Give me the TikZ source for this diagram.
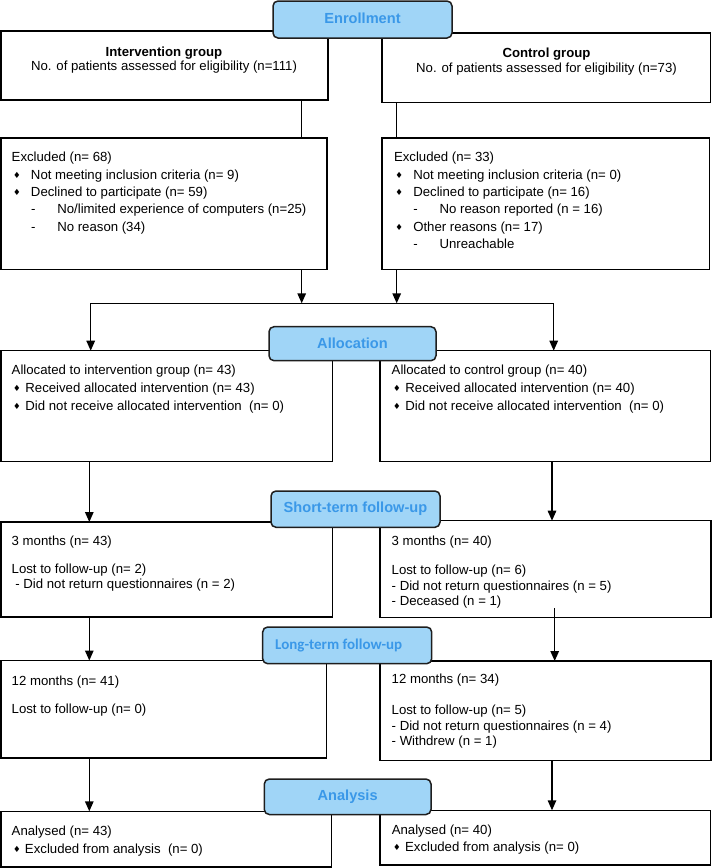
\documentclass[tikz,border=0pt]{standalone}
\usepackage{fontspec}
\setmainfont{Liberation Sans}
\newfontfamily\symf{DejaVu Sans}
\newfontfamily\calib{Carlito}
\usetikzlibrary{arrows.meta,calc}

\definecolor{hdrfill}{RGB}{160,213,247}
\definecolor{hdrtext}{RGB}{58,152,232}
\definecolor{hdrline}{RGB}{30,30,30}

\newcommand{\blk}[2]{\vtop{\baselineskip=#1\relax\lineskiplimit=-100pt\lineskip=0pt\halign{##\hfil\cr#2\crcr}}}
\newcommand{\cblk}[2]{\vtop{\baselineskip=#1\relax\lineskiplimit=-100pt\lineskip=0pt\halign{\hfil##\hfil\cr#2\crcr}}}
\newcommand{\dia}{\raisebox{0.8pt}{\symf\fontsize{8.5}{8.5}\selectfont ♦}}
\newcommand{\bu}[1]{\makebox[#1][l]{\hspace*{1.4pt}\dia}}
\newcommand{\subd}{\hspace*{19.4pt}\makebox[26.2pt][l]{-}}

\begin{document}
\begin{tikzpicture}[x=1pt,y=-1pt,
  box/.style={draw=black, line width=1.4pt, inner sep=0pt, outer sep=0pt, anchor=north west, fill=white},
  hdr/.style={draw=hdrline, fill=hdrfill, line width=1.5pt, rounded corners=5pt, inner sep=0pt, outer sep=0pt, anchor=north west, text=hdrtext, font=\fontsize{14.6}{16}\selectfont\bfseries},
  txt/.style={inner sep=0pt, outer sep=0pt, anchor=base west, font=\fontsize{13.2}{15}\selectfont},
  arr/.style={line width=1.4pt, -{Triangle[width=8.5pt,length=10pt]}},
  ln/.style={line width=1.4pt}]
\useasboundingbox (0,0) rectangle (712,868);

% boxes
\node[box, minimum width=327, minimum height=69] (ib) at (1,31) {};
\node[box, minimum width=328.5, minimum height=69.3] (cb) at (382,33) {};
\node[box, minimum width=326, minimum height=131.3] (ex1) at (1,138) {};
\node[box, minimum width=327.5, minimum height=131.3] (ex2) at (382,138) {};
\node[box, minimum width=331.3, minimum height=110.8] (al1) at (1,350.7) {};
\node[box, minimum width=330.5, minimum height=110.8] (al2) at (380,350.7) {};
\node[box, minimum width=331.3, minimum height=95] (st1) at (1,522) {};
\node[box, minimum width=331, minimum height=96.6] (st2) at (380,520.7) {};
\node[box, minimum width=325.7, minimum height=97.5] (lt1) at (1,660.5) {};
\node[box, minimum width=331, minimum height=99.5] (lt2) at (380,661) {};
\node[box, minimum width=330.7, minimum height=55.7] (an1) at (1,811.3) {};
\node[box, minimum width=330.5, minimum height=54.7] (an2) at (380,810.3) {};

% texts
\node[txt, anchor=base] (ibt) at (164,56.2) {\cblk{14.6pt}{\textbf{Intervention group}\cr No. of patients assessed for eligibility (n=111)}};
\node[txt, anchor=base] (cbt) at (546.5,57.2) {\cblk{15pt}{\textbf{Control group}\cr No. of patients assessed for eligibility (n=73)}};

\node[txt] (ex1t) at (11.7,161.7) {\blk{17.4pt}{Excluded (n= 68)\cr
\bu{19.3pt}Not meeting inclusion criteria (n= 9)\cr
\bu{19.3pt}Declined to participate (n= 59)\cr
\subd No/limited experience of computers (n=25)\cr
\subd No reason (34)}};
\node[txt] (ex2t) at (394,161.7) {\blk{17.4pt}{Excluded (n= 33)\cr
\bu{19.3pt}Not meeting inclusion criteria (n= 0)\cr
\bu{19.3pt}Declined to participate (n= 16)\cr
\subd No reason reported (n = 16)\cr
\bu{19.3pt}Other reasons (n= 17)\cr
\subd Unreachable}};

\node[txt] (al1t) at (11.7,374) {\blk{18pt}{Allocated to intervention group (n= 43)\cr
\bu{13.7pt}Received allocated intervention (n= 43)\cr
\bu{13.7pt}Did not receive allocated intervention~ (n= 0)}};
\node[txt] (al2t) at (391.7,374) {\blk{18pt}{Allocated to control group (n= 40)\cr
\bu{13.7pt}Received allocated intervention (n= 40)\cr
\bu{13.7pt}Did not receive allocated intervention~ (n= 0)}};

\node[txt] (st1t) at (11.7,545) {\blk{14.9pt}{3 months (n= 43)\cr\noalign{\vskip 13.4pt}
Lost to follow-up (n= 2)\cr
\hspace*{3.6pt}- Did not return questionnaires (n = 2)}};
\node[txt] (st2t) at (391.7,545) {\blk{15.5pt}{3 months (n= 40)\cr\noalign{\vskip 14.2pt}
Lost to follow-up (n= 6)\cr
- Did not return questionnaires (n = 5)\cr
- Deceased (n = 1)}};

\node[txt] (lt1t) at (11.7,685) {\blk{15pt}{12 months (n= 41)\cr\noalign{\vskip 13.3pt}
Lost to follow-up (n= 0)}};
\node[txt] (lt2t) at (391.7,683.7) {\blk{15.3pt}{12 months (n= 34)\cr\noalign{\vskip 15.7pt}
Lost to follow-up (n= 5)\cr
- Did not return questionnaires (n = 4)\cr
- Withdrew (n = 1)}};

\node[txt] (an1t) at (11.7,835) {\blk{18.3pt}{Analysed (n= 43)\cr
\bu{13.3pt}Excluded from analysis~ (n= 0)}};
\node[txt] (an2t) at (391.8,834) {\blk{17.7pt}{Analysed (n= 40)\cr
\bu{13.3pt}Excluded from analysis (n= 0)}};

% connectors
\coordinate (xa) at (301.7,0);
\coordinate (xb) at (396.7,0);
\coordinate (bl) at (90.7,303.3);
\coordinate (br) at (553.7,303.3);
\coordinate (xl) at (89.3,0);
\coordinate (xr) at (552,0);
\coordinate (rs) at (554.7,608.3);

\draw[ln] (ib.south -| xa) -- (ex1.north -| xa);
\draw[ln] (cb.south -| xb) -- (ex2.north -| xb);
\draw[arr] (ex1.south -| xa) -- (xa |- bl);
\draw[arr] (ex2.south -| xb) -- (xb |- bl);
\draw[arr] (xa |- bl) -- (bl) -- (bl |- al1.north);
\draw[arr] (xa |- bl) -- (br) -- (br |- al2.north);
\draw[arr] (al1.south -| xl) -- (st1.north -| xl);
\draw[arr] (al2.south -| xr) -- (st2.north -| xr);
\draw[arr] (st1.south -| xl) -- (lt1.north -| xl);
\draw[arr] (rs) -- (lt2.north -| rs);
\draw[arr] (lt1.south -| xl) -- (an1.north -| xl);
\draw[arr] (lt2.south -| xr) -- (an2.north -| xr);

% headers
\node[hdr, minimum width=179, minimum height=37] (h1) at (273,1) {\raisebox{3pt}{Enrollment}};
\node[hdr, minimum width=167, minimum height=34] (h2) at (269,326.7) {Allocation};
\node[hdr, minimum width=169, minimum height=36.3] (h3) at (271,491) {Short-term follow-up};
\node[hdr, minimum width=169, minimum height=36.7] (h4) at (262.7,627) {\calib\fontsize{15}{16}\selectfont\hspace*{-17pt}Long-term follow-up};
\node[hdr, minimum width=166.7, minimum height=35.5] (h5) at (264.3,779) {Analysis};
\end{tikzpicture}
\end{document}
